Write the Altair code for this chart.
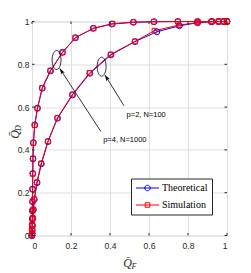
import altair as alt
import pandas as pd

# ---------------- data ----------------
# curve p=4, N=1000 (upper curve)
a_theo_x = [0, 0.0003, 0.0006, 0.001, 0.0015, 0.002, 0.0025, 0.003, 0.004, 0.005, 0.007, 0.014, 0.028,
            0.053, 0.095, 0.156, 0.223, 0.314, 0.41, 0.52, 0.626, 0.748, 0.849, 0.923, 0.957, 0.983, 1.0]
a_theo_y = [0, 0.01, 0.03, 0.05, 0.077, 0.115, 0.158, 0.217, 0.29, 0.358, 0.434, 0.517, 0.595,
            0.688, 0.769, 0.856, 0.924, 0.968, 0.988, 0.996, 0.999, 1.0, 1.0, 1.0, 1.0, 1.0, 1.0]
a_sim_x = [0, 0.0003, 0.0006, 0.001, 0.0015, 0.002, 0.0025, 0.003, 0.004, 0.005, 0.007, 0.014, 0.028,
           0.052, 0.094, 0.157, 0.222, 0.316, 0.413, 0.52, 0.624, 0.748, 0.849, 0.923, 0.957, 0.983, 1.0]
a_sim_y = [0, 0.012, 0.031, 0.052, 0.079, 0.117, 0.16, 0.215, 0.288, 0.36, 0.432, 0.515, 0.594,
           0.69, 0.771, 0.855, 0.925, 0.968, 0.99, 0.997, 0.999, 1.0, 1.0, 1.0, 1.0, 1.0, 1.0]

# curve p=2, N=100 (lower curve)
b_theo_x = [0, 0.0005, 0.001, 0.002, 0.004, 0.007, 0.012, 0.026, 0.048, 0.082, 0.131, 0.208,
            0.297, 0.405, 0.528, 0.64, 0.756, 0.849, 0.92, 0.957, 0.983, 1.0]
b_theo_y = [0, 0.01, 0.022, 0.045, 0.08, 0.12, 0.168, 0.247, 0.335, 0.439, 0.548, 0.657,
            0.758, 0.844, 0.906, 0.952, 0.98, 0.994, 0.999, 1.0, 1.0, 1.0]
b_sim_x = [0, 0.0005, 0.001, 0.002, 0.004, 0.007, 0.011, 0.025, 0.047, 0.082, 0.13, 0.207,
           0.295, 0.403, 0.528, 0.628, 0.752, 0.849, 0.92, 0.957, 0.983, 1.0]
b_sim_y = [0, 0.011, 0.024, 0.047, 0.082, 0.122, 0.17, 0.249, 0.337, 0.44, 0.549, 0.659,
           0.76, 0.846, 0.907, 0.957, 0.983, 0.995, 0.999, 1.0, 1.0, 1.0]

series_names = ["Theoretical", "Simulation"]
series_colors = ["#0000FF", "#FF0000"]
ticks = [0, 0.2, 0.4, 0.6, 0.8, 1.0]

# annotations (data coordinates)
ell_x = [0.126, 0.357]
ell_y = [0.82, 0.789]
arrow_tail_x = [0.353, 0.472]
arrow_tail_y = [0.486, 0.606]
arrow_head_x = [0.142, 0.374]
arrow_head_y = [0.781, 0.75]
arrow_angle = [327, 328]
label_x = [0.365, 0.485]
label_y = [0.447, 0.563]
label_text = ["p=4, N=1000", "p=2, N=100"]

# ---------------- tables ----------------
rows = []
for curve, (tx, ty, sx, sy) in {
    "p=4, N=1000": (a_theo_x, a_theo_y, a_sim_x, a_sim_y),
    "p=2, N=100": (b_theo_x, b_theo_y, b_sim_x, b_sim_y),
}.items():
    for i, (x, y) in enumerate(zip(tx, ty)):
        rows.append({"curve": curve, "series": "Theoretical", "x": x, "y": y, "i": i})
    for i, (x, y) in enumerate(zip(sx, sy)):
        rows.append({"curve": curve, "series": "Simulation", "x": x, "y": y, "i": i})
df = pd.DataFrame(rows)

ell_df = pd.DataFrame({"x": ell_x, "y": ell_y})
arr_df = pd.DataFrame({"x": arrow_tail_x, "y": arrow_tail_y, "x2": arrow_head_x, "y2": arrow_head_y})
head_df = pd.DataFrame({"x": arrow_head_x, "y": arrow_head_y, "a": arrow_angle})
lab_df = pd.DataFrame({"x": label_x, "y": label_y, "t": label_text})
tick_df = pd.DataFrame({"x": ticks, "y": ticks})

W, H = 195, 214
FRAME = "#262626"

sx_ = alt.Scale(domain=[0, 1], nice=False, zero=False)
sy_ = alt.Scale(domain=[0, 1], nice=False, zero=False)
ax_x = alt.Axis(values=ticks, format=".1~f", grid=True, ticks=False, tickSize=0, domain=False,
                labelPadding=6, title=None, labelFont="Liberation Sans", labelFontSize=8.5,
                labelColor=FRAME, gridColor="#dfdfdf", gridWidth=1)
ax_y = alt.Axis(values=ticks, format=".1~f", grid=True, ticks=False, tickSize=0, domain=False,
                labelPadding=3, title=None, labelFont="Liberation Sans", labelFontSize=8.5,
                labelColor=FRAME, gridColor="#dfdfdf", gridWidth=1)
X = alt.X("x:Q", scale=sx_, axis=ax_x)
Y = alt.Y("y:Q", scale=sy_, axis=ax_y)

base = alt.Chart(df)

def line(name, color):
    return base.transform_filter(alt.datum.series == name).mark_line(
        color=color, strokeWidth=1, clip=False).encode(x=X, y=Y, detail="curve:N", order="i:Q")

lines = [line("Theoretical", "#0000FF"), line("Simulation", "#FF0000")]

pts_theo = base.transform_filter(alt.datum.series == "Theoretical").mark_point(
    shape="circle", filled=False, color="#0000FF", size=34, strokeWidth=1, opacity=1).encode(x=X, y=Y)
pts_sim = base.transform_filter(alt.datum.series == "Simulation").mark_point(
    shape="square", filled=False, color="#FF0000", size=22, strokeWidth=1, opacity=1).encode(x=X, y=Y)

# legend-only layer (no visible data)
leg_circle = "M-2.3,0H2.3M-0.55,0A0.55,0.55 0 1,0 0.55,0A0.55,0.55 0 1,0 -0.55,0"
leg_square = "M-2.3,0H2.3M-0.45,-0.45H0.45V0.45H-0.45Z"
legend_layer = base.transform_filter("datum.x > 2").mark_point(
    filled=False, strokeWidth=1, size=100, opacity=1).encode(
    x=X, y=Y,
    color=alt.Color("series:N", scale=alt.Scale(domain=series_names, range=series_colors),
                    legend=alt.Legend(title=None, orient="none", legendX=99, legendY=157,
                                      fillColor="white", strokeColor=FRAME, padding=4,
                                      symbolSize=100, symbolStrokeWidth=1, symbolOffset=7,
                                      labelFont="Liberation Serif", labelFontSize=10,
                                      labelColor="black", rowPadding=6, labelOffset=9,
                                      symbolFillColor="transparent")),
    shape=alt.Shape("series:N", scale=alt.Scale(domain=series_names, range=[leg_circle, leg_square])),
)

# annotations
ellipse = alt.Chart(ell_df).mark_point(
    shape="M0,-1A0.47,1 0 1,0 0,1A0.47,1 0 1,0 0,-1", filled=False, color="black",
    size=361, strokeWidth=0.8, opacity=1).encode(x=X, y=Y)
arrows = alt.Chart(arr_df).mark_rule(color="black", strokeWidth=0.8).encode(
    x=X, y=Y, x2="x2:Q", y2="y2:Q")
heads = alt.Chart(head_df).mark_point(
    shape="M0,0L0.5,1.6L0,1.2L-0.5,1.6Z", filled=True, color="black", size=64, opacity=1,
    strokeWidth=0).encode(x=X, y=Y, angle=alt.Angle("a:Q", scale=None))
labels = alt.Chart(lab_df).mark_text(
    align="left", baseline="middle", font="Liberation Sans", fontSize=7.5, color="black").encode(
    x=X, y=Y, text="t:N")

# inward ticks on all four sides
tk = alt.Chart(tick_df)
tick_layers = [
    tk.mark_rule(color=FRAME, strokeWidth=1).encode(x=X, y=alt.value(H), y2=alt.value(H - 2.5)),
    tk.mark_rule(color=FRAME, strokeWidth=1).encode(x=X, y=alt.value(0), y2=alt.value(2.5)),
    tk.mark_rule(color=FRAME, strokeWidth=1).encode(y=Y, x=alt.value(0), x2=alt.value(2.5)),
    tk.mark_rule(color=FRAME, strokeWidth=1).encode(y=Y, x=alt.value(W), x2=alt.value(W - 2.5)),
]

# axis titles (Q-bar with subscripts)
qbar = "Q\u0304"
titles = [
    alt.Chart(tick_df.head(1)).mark_text(text=qbar, font="Liberation Serif", fontStyle="italic",
                                         fontSize=12, color=FRAME, align="center", baseline="middle"
                                         ).encode(x=alt.value(95.5), y=alt.value(241)),
    alt.Chart(tick_df.head(1)).mark_text(text="F", font="Liberation Serif", fontStyle="italic",
                                         fontSize=8, color=FRAME, align="center", baseline="middle"
                                         ).encode(x=alt.value(102), y=alt.value(245)),
    alt.Chart(tick_df.head(1)).mark_text(text=qbar, font="Liberation Serif", fontStyle="italic",
                                         fontSize=12, color=FRAME, align="center", baseline="middle",
                                         angle=270).encode(x=alt.value(-17.5), y=alt.value(113)),
    alt.Chart(tick_df.head(1)).mark_text(text="D", font="Liberation Serif", fontStyle="italic",
                                         fontSize=8, color=FRAME, align="center", baseline="middle",
                                         angle=270).encode(x=alt.value(-13.5), y=alt.value(106.5)),
]

chart = alt.layer(
    *lines, pts_theo, pts_sim, legend_layer, ellipse, arrows, heads, labels, *tick_layers, *titles
).properties(
    width=W, height=H,
    padding={"left": 24, "top": 13.5, "right": 16, "bottom": 37},
    autosize=alt.AutoSizeParams(type="none"),
).configure_view(stroke=FRAME, strokeWidth=1).configure(background="white")

chart.save("out.html", embed_options={"renderer": "svg", "actions": False})
